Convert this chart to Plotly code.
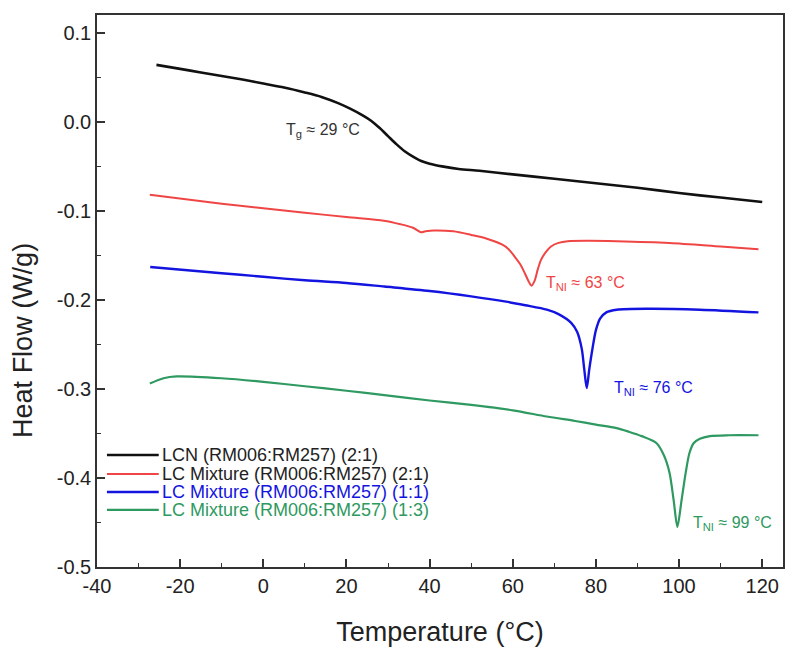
import plotly.graph_objects as go

# ---- data ----
lcn_x = [-25.7, -20, -15, -10, -5, 0, 5, 10, 14, 18, 21, 24, 26, 28, 30, 32, 34, 36, 38, 40, 43, 47, 52, 60, 70, 80, 90, 100, 110, 120]
lcn_y = [0.064, 0.0595, 0.0555, 0.0515, 0.0475, 0.043, 0.0385, 0.033, 0.028, 0.021, 0.0145, 0.007, 0.001, -0.007, -0.016, -0.025, -0.033, -0.039, -0.044, -0.047, -0.050, -0.053, -0.055, -0.059, -0.064, -0.069, -0.074, -0.080, -0.085, -0.090]

m21_x = [-27.3, -10, 0, 10, 20, 29, 33, 36, 37.9, 39, 41, 45.7, 50, 53.6, 57.5, 59, 60.4, 61.8, 62.9, 63.8, 64.5, 65.3, 66.0, 66.8, 68, 69.2, 71, 73.2, 78.1, 85, 97.7, 110, 119.1]
m21_y = [-0.082, -0.092, -0.097, -0.102, -0.107, -0.111, -0.115, -0.119, -0.124, -0.123, -0.122, -0.123, -0.127, -0.131, -0.138, -0.143, -0.151, -0.160, -0.170, -0.179, -0.184, -0.178, -0.166, -0.155, -0.146, -0.140, -0.136, -0.134, -0.1335, -0.134, -0.136, -0.140, -0.143]

m11_x = [-27.2, -10, 0, 10, 20, 29.1, 40, 50, 58.4, 63, 68.2, 71, 74.1, 75.5, 76.6, 77.2, 77.8, 78.4, 79.2, 80.0, 81, 82.5, 85, 92.7, 105, 119.1]
m11_y = [-0.163, -0.170, -0.174, -0.178, -0.181, -0.185, -0.190, -0.196, -0.202, -0.206, -0.211, -0.216, -0.226, -0.236, -0.255, -0.278, -0.299, -0.278, -0.254, -0.234, -0.221, -0.214, -0.211, -0.210, -0.211, -0.214]

m13_x = [-27.3, -24, -20.9, -10.1, 0, 10, 20, 29.1, 40, 50, 60, 68.2, 75, 80, 85, 87.9, 91, 94.6, 96.3, 97.7, 98.7, 99.6, 100.6, 101.6, 102.5, 103.5, 105, 107.4, 112, 119.1]
m13_y = [-0.294, -0.288, -0.286, -0.288, -0.292, -0.297, -0.302, -0.307, -0.313, -0.318, -0.324, -0.331, -0.336, -0.340, -0.344, -0.348, -0.353, -0.361, -0.374, -0.394, -0.425, -0.455, -0.425, -0.394, -0.372, -0.361, -0.356, -0.353, -0.352, -0.352]

x_ticks = [-40, -20, 0, 20, 40, 60, 80, 100, 120]
x_ticklabels = ["-40", "-20", "0", "20", "40", "60", "80", "100", "120"]
y_ticks = [-0.5, -0.4, -0.3, -0.2, -0.1, 0.0, 0.1]
y_ticklabels = ["-0.5", "-0.4", "-0.3", "-0.2", "-0.1", "0.0", "0.1"]

names = ["LCN (RM006:RM257) (2:1)",
         "LC Mixture (RM006:RM257) (2:1)",
         "LC Mixture (RM006:RM257) (1:1)",
         "LC Mixture (RM006:RM257) (1:3)"]
colors = ["#111111", "#f04545", "#1414e0", "#2e9960"]
text_colors = ["#222222", "#222222", "#1414e0", "#2e9960"]
widths = [2.6, 2.0, 2.4, 2.2]

FONT = "Liberation Sans, Arial, sans-serif"

fig = go.Figure()
for xs, ys, nm, c, w in zip([lcn_x, m21_x, m11_x, m13_x], [lcn_y, m21_y, m11_y, m13_y],
                             names, colors, widths):
    fig.add_trace(go.Scatter(x=xs, y=ys, mode="lines", name=nm, showlegend=False,
                             line=dict(color=c, width=w, shape="spline", smoothing=0.8)))

# compact legend (line sample + coloured text), drawn in paper coordinates
leg_y = [0.203, 0.1685, 0.136, 0.1035]
for nm, c, tc, w, yy in zip(names, colors, text_colors, widths, leg_y):
    fig.add_shape(type="line", xref="paper", yref="paper", x0=0.0145, x1=0.09, y0=yy, y1=yy,
                  line=dict(color=c, width=w))
    fig.add_annotation(xref="paper", yref="paper", x=0.092, y=yy, text=nm, showarrow=False,
                       xanchor="left", yanchor="middle",
                       font=dict(family=FONT, size=18, color=tc))

ann = [
    (5.0, -0.010, "T<sub>g</sub> ≈ 29 °C", "#333333"),
    (67.5, -0.182, "T<sub>NI</sub> ≈ 63 °C", "#f04545"),
    (83.8, -0.300, "T<sub>NI</sub> ≈ 76 °C", "#1414e0"),
    (102.8, -0.451, "T<sub>NI</sub> ≈ 99 °C", "#2e9960"),
]
for ax_, ay_, t, c in ann:
    fig.add_annotation(x=ax_, y=ay_, text=t, showarrow=False, xanchor="left", yanchor="middle",
                       font=dict(family=FONT, size=16, color=c))

# y-axis title (placed as in the reference, slightly below centre)
fig.add_annotation(xref="paper", yref="paper", x=-0.109, y=0.41, text="Heat Flow (W/g)",
                   textangle=-90, showarrow=False, xanchor="center", yanchor="middle",
                   font=dict(family=FONT, size=27, color="#222222"))

axis_common = dict(showline=True, linecolor="#333333", linewidth=1.6, mirror=True,
                   ticks="inside", ticklen=8, tickwidth=1.5, tickcolor="#333333",
                   showgrid=False, zeroline=False,
                   tickfont=dict(family=FONT, size=20, color="#222222"))

fig.update_xaxes(range=[-40, 125], tickmode="array", tickvals=x_ticks, ticktext=x_ticklabels,
                 minor=dict(ticks="inside", ticklen=4, tickwidth=1.2, tickcolor="#333333", dtick=10, tick0=0),
                 title=dict(text="Temperature (°C)", font=dict(family=FONT, size=27, color="#222222"), standoff=26),
                 **axis_common)
fig.update_yaxes(range=[-0.5, 0.12], tickmode="array", tickvals=y_ticks, ticktext=y_ticklabels,
                 minor=dict(ticks="inside", ticklen=4, tickwidth=1.2, tickcolor="#333333", dtick=0.05, tick0=0),
                 **axis_common)

fig.update_layout(
    width=788, height=650,
    margin=dict(l=97, r=3, t=15, b=83),
    plot_bgcolor="white", paper_bgcolor="white",
    showlegend=False,
)

fig.write_html("out.html")
